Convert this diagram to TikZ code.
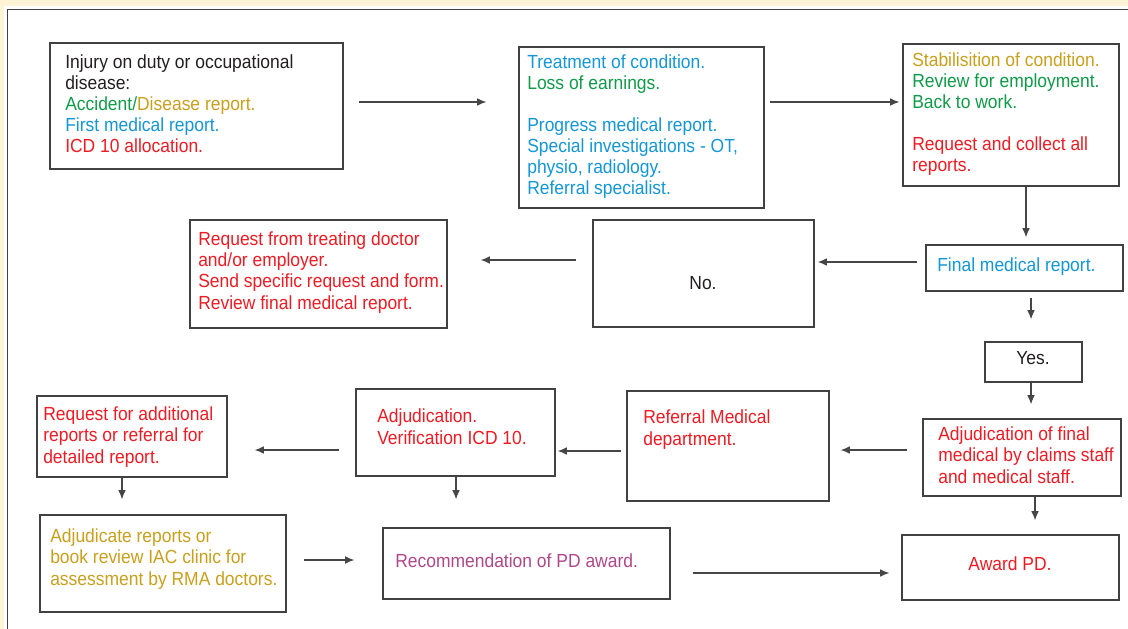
\documentclass[tikz,border=0pt]{standalone}
\usepackage{fontspec}
\setmainfont{Liberation Sans}[FakeStretch=0.92]
\usetikzlibrary{fit,arrows.meta}

\definecolor{tgreen}{RGB}{16,155,72}
\definecolor{tgold}{RGB}{200,160,30}
\definecolor{tblue}{RGB}{20,150,215}
\definecolor{tred}{RGB}{237,28,36}
\definecolor{tpurple}{RGB}{176,72,136}
\definecolor{tblack}{RGB}{35,31,32}
\definecolor{boxgray}{RGB}{65,65,65}
\definecolor{linegray}{RGB}{70,70,70}
\definecolor{cream}{RGB}{255,243,214}
\newcommand{\fs}{\fontsize{13.5}{14.94}\selectfont}

\begin{document}
\begin{tikzpicture}[x=0.025cm,y=-0.025cm,
	box/.style={draw=boxgray,line width=1pt,inner sep=0pt},
	txt/.style={anchor=base west,align=left,inner sep=0pt,font=\fs},
	ctxt/.style={anchor=base,inner sep=0pt,font=\fs},
	arr/.style={-{Latex[length=6.5pt,width=5.5pt]},draw=linegray,line width=0.8pt}]
		\useasboundingbox (0,0) rectangle (1128,629);
		% page
		\fill[cream] (0,0) rectangle (1128,629);
		\fill[white] (4,6) rectangle (1128,629);
		\draw[boxgray,line width=1.1pt] (7.5,629) -- (7.5,9.5) -- (1128,9.5);
		
		% boxes
		\node[box,fit={(50,43) (343,169)}] (inj) {};
		\node[box,fit={(519,47) (764,208)}] (treat) {};
		\node[box,fit={(903,44) (1119,186)}] (stab) {};
		\node[box,fit={(926,245) (1123,291)}] (final) {};
		\node[box,fit={(593,220) (814,327)}] (no) {};
		\node[box,fit={(190,220) (447,328)}] (reqdoc) {};
		\node[box,fit={(985,342) (1082,382)}] (yes) {};
		\node[box,fit={(923,419) (1121,496)}] (adjfin) {};
		\node[box,fit={(627,391) (829,501)}] (refmed) {};
		\node[box,fit={(356,389) (555,476)}] (adjver) {};
		\node[box,fit={(37,396) (227,477)}] (reqadd) {};
		\node[box,fit={(40,515) (286,612)}] (adjrep) {};
		\node[box,fit={(383,528) (670,599)}] (recpd) {};
		\node[box,fit={(902,535) (1119,600)}] (award) {};
		
		% texts (placed at the baseline of their last line)
		\node[txt] (inj-t) at (65,153) {\color{tblack}Injury on duty or occupational\\
			\color{tblack}disease:\\
			\color{tgreen}Accident/\color{tgold}Disease report.\\
			\color{tblue}First medical report.\\
			\color{tred}ICD 10 allocation.};
		\node[txt] (treat-t) at (527,195) {\color{tblue}Treatment of condition.\\
			\color{tgreen}Loss of earnings.\\ ~\\
			\color{tblue}Progress medical report.\\
			\color{tblue}Special investigations - OT,\\
			\color{tblue}physio, radiology.\\
			\color{tblue}Referral specialist.};
		\node[txt] (stab-t) at (912,172) {\color{tgold}Stabilisition of condition.\\
			\color{tgreen}Review for employment.\\
			\color{tgreen}Back to work.\\ ~\\
			\color{tred}Request and collect all\\
			\color{tred}reports.};
		\node[txt,tblue] (final-t) at (937,271) {Final medical report.};
		\node[ctxt,tblack] (no-t) at (703,289) {No.};
		\node[txt,tred] (reqdoc-t) at (198,309) {Request from treating doctor\\
			and/or employer.\\
			Send specific request and form.\\
			Review final medical report.};
		\node[ctxt,tblack] (yes-t) at (1033,364) {Yes.};
		\node[txt,tred] (adjfin-t) at (938,483) {Adjudication of final\\
			medical by claims staff\\
			and medical staff.};
		\node[txt,tred] (refmed-t) at (643,445) {Referral Medical\\
			department.};
		\node[txt,tred] (adjver-t) at (377,444) {Adjudication.\\
			Verification ICD 10.};
		\node[txt,tred] (reqadd-t) at (43,463) {Request for additional\\
			reports or referral for\\
			detailed report.};
		\node[txt,tgold] (adjrep-t) at (50,585) {Adjudicate reports or\\
			book review IAC clinic for\\
			assessment by RMA doctors.};
		\node[txt,tpurple] (recpd-t) at (395,567) {Recommendation of PD award.};
		\node[ctxt,tred] (award-t) at (1010,570) {Award PD.};
		
		% arrows
		\draw[arr,shorten <=15*0.025cm,shorten >=32*0.025cm] (inj.east |- 0,102) -- (treat.west |- 0,102);
		\draw[arr,shorten <=5*0.025cm,shorten >=3*0.025cm] (treat.east |- 0,102) -- (stab.west |- 0,102);
		\draw[arr,shorten >=7*0.025cm] (stab.south -| 1026,0) -- (final.north -| 1026,0);
		\draw[arr,shorten <=8*0.025cm,shorten >=3*0.025cm] (final.west |- 0,262) -- (no.east |- 0,262);
		\draw[arr,shorten <=16*0.025cm,shorten >=33*0.025cm] (no.west |- 0,260) -- (reqdoc.east |- 0,260);
		\draw[arr,shorten <=6*0.025cm,shorten >=22*0.025cm] (final.south -| 1031,0) -- (yes.north -| 1031,0);
		\draw[arr,shorten >=14*0.025cm] (yes.south -| 1031,0) -- (adjfin.north -| 1031,0);
		\draw[arr,shorten <=15*0.025cm,shorten >=11*0.025cm] (adjfin.west |- 0,450) -- (refmed.east |- 0,450);
		\draw[arr,shorten <=5*0.025cm,shorten >=2*0.025cm] (refmed.west |- 0,451) -- (adjver.east |- 0,451);
		\draw[arr,shorten <=16*0.025cm,shorten >=27*0.025cm] (adjver.west |- 0,450) -- (reqadd.east |- 0,450);
		\draw[arr,shorten >=15*0.025cm] (reqadd.south -| 122,0) -- (adjrep.north -| 122,0);
		\draw[arr,shorten >=28*0.025cm] (adjver.south -| 456,0) -- (recpd.north -| 456,0);
		\draw[arr,shorten <=17*0.025cm,shorten >=28*0.025cm] (adjrep.east |- 0,560) -- (recpd.west |- 0,560);
		\draw[arr,shorten <=22*0.025cm,shorten >=12*0.025cm] (recpd.east |- 0,573) -- (award.west |- 0,573);
		\draw[arr,shorten >=14*0.025cm] (adjfin.south -| 1035,0) -- (award.north -| 1035,0);
		\end{tikzpicture}
\end{document}
